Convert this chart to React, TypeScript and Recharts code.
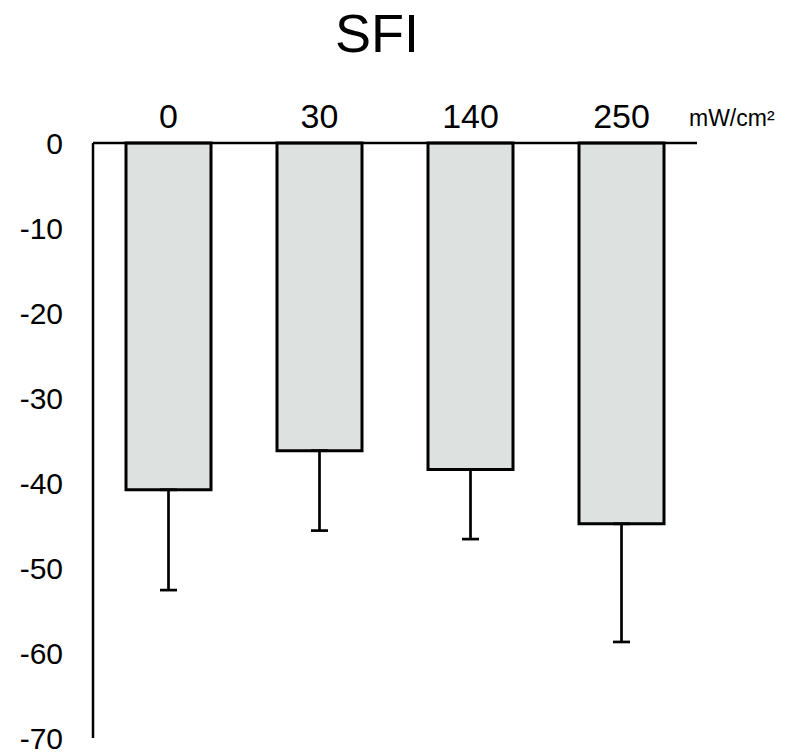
import { Bar, BarChart, ErrorBar, XAxis, YAxis } from "recharts"

const categories = ["0", "30", "140", "250"]
const means = [-40.8, -36.2, -38.4, -44.8]
const errorsDown = [11.8, 9.4, 8.2, 13.9]
const yTicks = [0, -10, -20, -30, -40, -50, -60, -70]

const data = categories.map((name, i) => ({
  name,
  value: means[i],
  err: [errorsDown[i], 0],
}))

const font = '"Liberation Sans", Arial, sans-serif'

export default function App() {
  return (
    <div style={{ position: "absolute", left: 0, top: 0, width: 788, height: 753, fontFamily: font }}>
      <div
        style={{
          position: "absolute",
          left: 277,
          width: 200,
          top: 2,
          textAlign: "center",
          fontSize: 54,
          lineHeight: "62px",
          color: "#000",
        }}
      >
        SFI
      </div>
      <div
        style={{
          position: "absolute",
          left: 689,
          top: 104,
          fontSize: 23,
          lineHeight: "28px",
          color: "#000",
        }}
      >
        mW/cm²
      </div>
      <BarChart
        width={788}
        height={753}
        data={data}
        margin={{ top: 103, right: 91, bottom: 15, left: 0 }}
        barCategoryGap={0}
      >
        <XAxis
          dataKey="name"
          orientation="top"
          height={40}
          axisLine={{ stroke: "#000", strokeWidth: 2.5 }}
          tickLine={false}
          tickSize={0}
          tickMargin={15}
          tick={{ fill: "#000", fontSize: 34, fontFamily: font }}
        />
        <YAxis
          width={93}
          domain={[-70, 0]}
          ticks={yTicks}
          interval={0}
          axisLine={{ stroke: "#000", strokeWidth: 2.5 }}
          tickLine={false}
          tickSize={0}
          tickMargin={30}
          tick={{ fill: "#000", fontSize: 30, fontFamily: font }}
        />
        <Bar
          dataKey="value"
          barSize={85}
          fill="#dde1e0"
          stroke="#000"
          strokeWidth={3}
          isAnimationActive={false}
        >
          <ErrorBar dataKey="err" direction="y" width={8.5} stroke="#000" strokeWidth={2.7} />
        </Bar>
      </BarChart>
    </div>
  )
}
